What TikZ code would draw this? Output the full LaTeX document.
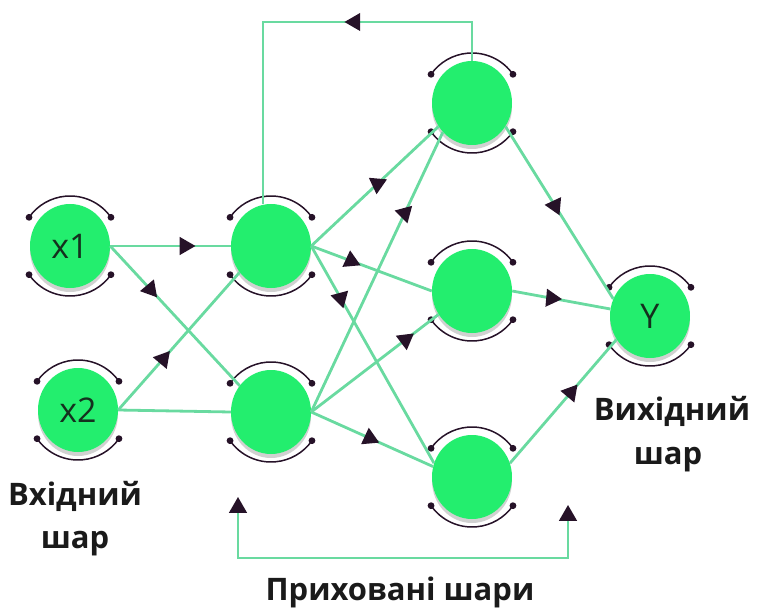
\documentclass[tikz,border=0pt]{standalone}
\usepackage{fontspec}
\setmainfont{Open Sans}
\usetikzlibrary{shapes.geometric,shadows}
\definecolor{neuron}{RGB}{35,238,110}
\definecolor{link}{RGB}{105,218,160}
\definecolor{ink}{RGB}{38,18,40}
\definecolor{txt}{RGB}{26,26,26}
\definecolor{cell}{RGB}{20,48,30}
\begin{document}
\begin{tikzpicture}[x=1pt,y=-1pt,
  neuron/.style={ellipse, fill=neuron, minimum width=80pt, minimum height=84pt,
    inner sep=0pt, font=\fontsize{34}{34}\selectfont, text=cell,
    drop shadow={shadow xshift=0pt, shadow yshift=-4pt, fill=black!18, opacity=1}},
  link/.style={draw=link, line width=2.8pt},
  tip/.style={regular polygon, regular polygon sides=3, fill=ink, draw=none,
    inner sep=0pt, minimum size=21pt, rotate=#1-90},
  ring/.style={draw=ink, line width=1.5pt},
  caption/.style={font=\bfseries\fontsize{31}{31}\selectfont, text=txt, anchor=base}]
\useasboundingbox (0,0) rectangle (757,612);

% neurons
\node[neuron] (x1) at (70,246)  {x1};
\node[neuron] (x2) at (78,410)  {x2};
\node[neuron] (h1) at (271,246) {};
\node[neuron] (h2) at (271,412) {};
\node[neuron] (a)  at (472,103) {};
\node[neuron] (b)  at (472,291) {};
\node[neuron] (c)  at (472,477) {};
\node[neuron] (y)  at (650,316) {Y};

% arcs with end dots round every neuron
\foreach \n in {x1,x2,h1,h2,a,b,c,y}{
  \draw[ring] ([shift={(35:50pt)}]\n.center) arc[start angle=35,end angle=145,radius=50pt];
  \draw[ring] ([shift={(215:50pt)}]\n.center) arc[start angle=215,end angle=325,radius=50pt];
  \foreach \t in {35,145,215,325}
    \fill[ink] ([shift={(\t:50pt)}]\n.center) circle[radius=3.4pt];
}

% input layer to first hidden layer
\draw[link] (x1.east) -- node[tip=0,pos=0.62]{} (h1.west);
\draw[link] (x1.east) -- node[tip=-50,pos=0.31]{} (h2.140);
\draw[link] (x2.east) -- node[tip=50,pos=0.37]{} (h1.220);
\draw[link] (x2.east) -- (h2.west);

% first hidden layer to second hidden layer
\draw[link] (h1.east) -- node[tip=25,pos=0.52]{} (a.215);
\draw[link] (h1.east) -- node[tip=95,pos=0.33]{} (b.west);
\draw[link] (h1.east) -- node[tip=-75,pos=0.24]{} (c.160);
\draw[link] (h2.east) -- node[tip=165,pos=0.71]{} (a.225);
\draw[link] (h2.east) -- node[tip=37,pos=0.74]{} (b.215);
\draw[link] (h2.east) -- node[tip=95,pos=0.48]{} (c.165);

% second hidden layer to output
\draw[link] (a.325) -- node[tip=175,pos=0.46]{} (y.155);
\draw[link] (b.east) -- node[tip=-5,pos=0.4]{} (y.170);
\draw[link] (c.20) -- node[tip=170,pos=0.57]{} (y.215);

% recurrent loop over the top
\coordinate (tl) at (263,22);
\draw[link] (a.north) |- node[tip=180,pos=0.78]{} (tl) -- (tl |- h1.north);

% feedback bracket under the hidden layers
\coordinate (bl) at (238,513);
\coordinate (br) at (568,521);
\coordinate (bm) at (0,558);
\draw[link] (bl) |- (br |- bm) -- (br);
\node[tip=90,anchor=south] at (bl) {};
\node[tip=90,anchor=south] at (br) {};

% captions
\node[caption] at (75,505) {Вхідний};
\node[caption] at (75,548) {шар};
\node[caption] at (672,420) {Вихідний};
\node[caption] at (668,464) {шар};
\node[caption] at (400,600) {Приховані шари};
\end{tikzpicture}
\end{document}
